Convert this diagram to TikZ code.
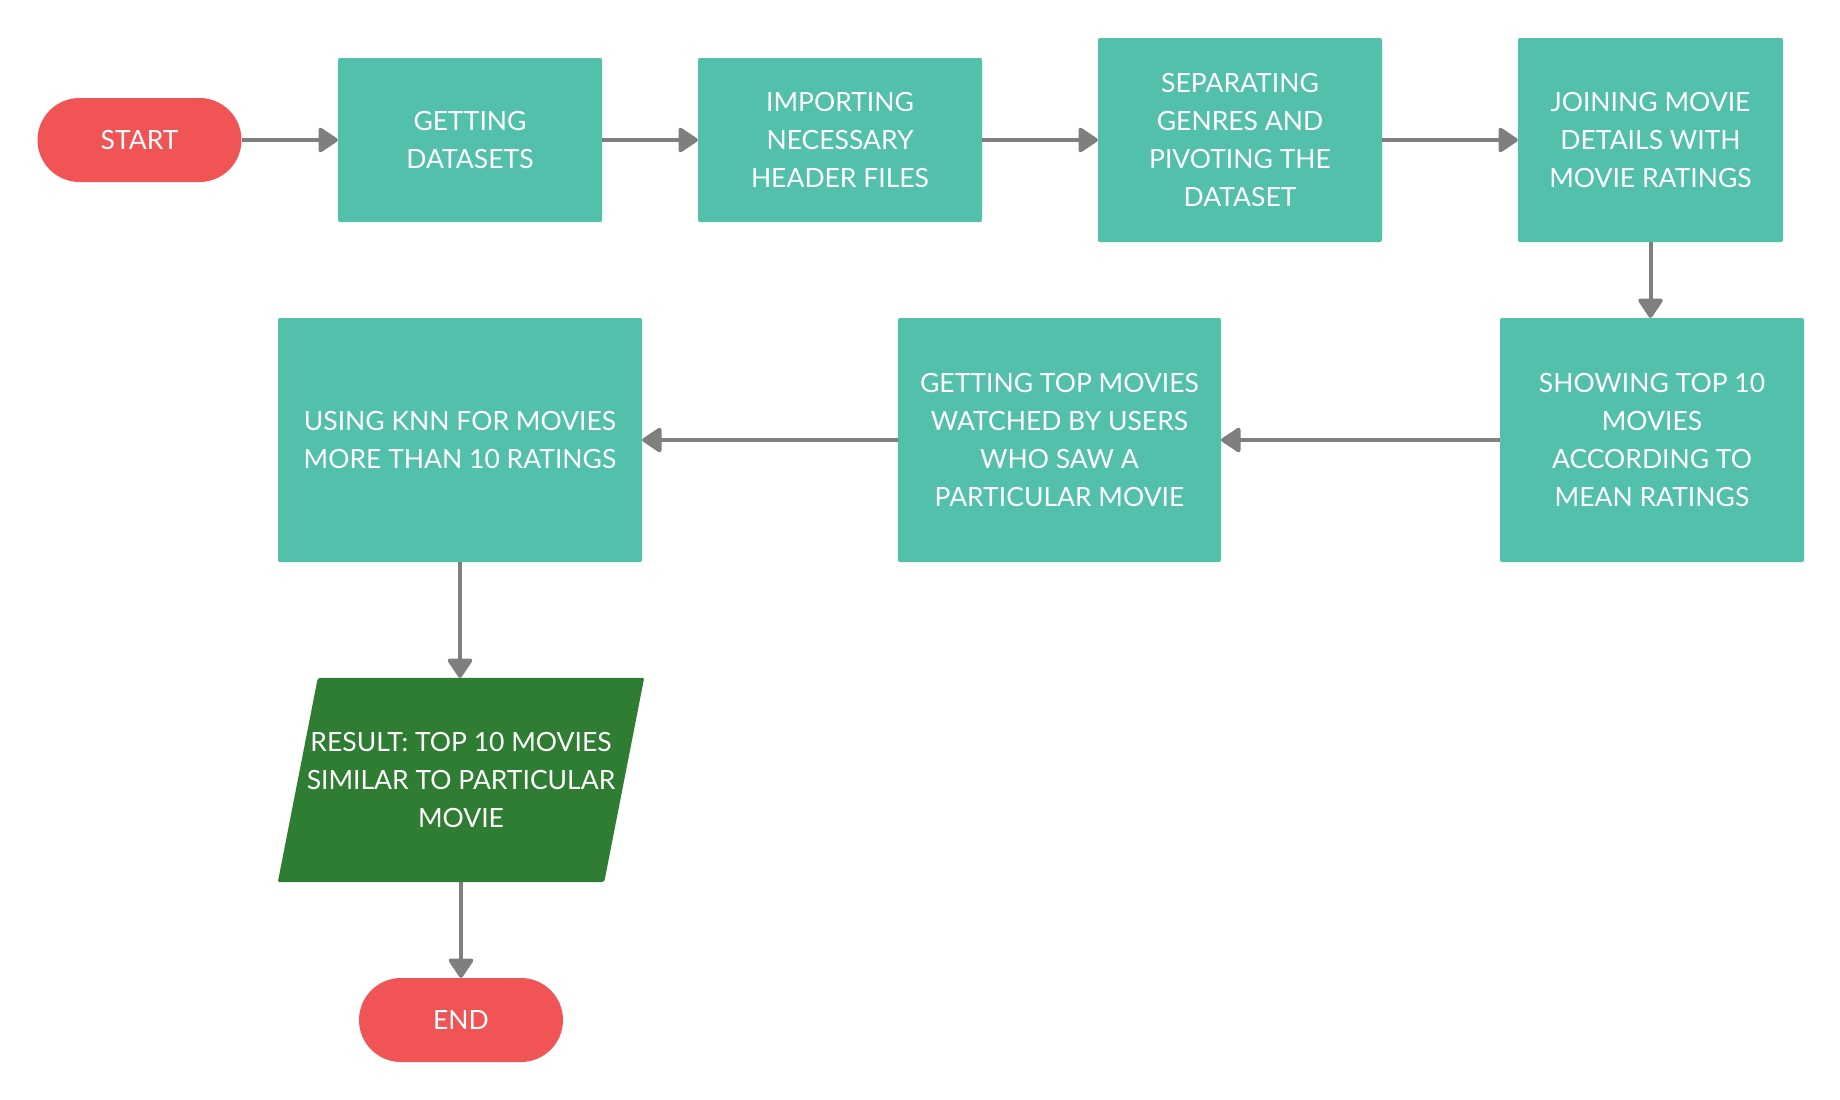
\documentclass[tikz,border=0pt]{standalone}
\usepackage{fontspec}
\setmainfont{Lato}
\usetikzlibrary{arrows.meta,calc}
\definecolor{teal1}{HTML}{52C0AA}
\definecolor{red1}{HTML}{F05454}
\definecolor{green1}{HTML}{2F7D32}
\definecolor{gray1}{HTML}{7F7F7F}
\begin{document}
\begin{tikzpicture}[x=1pt,y=-1pt,
  txt/.style={text=white,font=\fontsize{26.5}{38}\selectfont,align=center,inner sep=0pt},
  procbox/.style={txt,fill=teal1,rounded corners=2pt},
  pill/.style={txt,fill=red1,rounded corners=42pt,minimum width=204pt,minimum height=84pt},
  conn/.style={draw=gray1,line width=4pt,-{Triangle[length=21pt,width=27pt,round]}}
]
\useasboundingbox (0,0) rectangle (1840,1100);
\fill[white] (0,0) rectangle (1840,1100);
\node[pill] (start) at (139.5,140) {START};
\node[procbox,minimum width=264pt,minimum height=164pt] (n1) at (470,140) {GETTING\\DATASETS};
\node[procbox,minimum width=284pt,minimum height=164pt] (n2) at (840,140) {IMPORTING\\NECESSARY\\HEADER FILES};
\node[procbox,minimum width=284pt,minimum height=204pt] (n3) at (1240,140) {SEPARATING\\GENRES AND\\PIVOTING THE\\DATASET};
\node[procbox,minimum width=265pt,minimum height=204pt] (n4) at (1650.5,140) {JOINING MOVIE\\DETAILS WITH\\MOVIE RATINGS};
\node[procbox,minimum width=304pt,minimum height=244pt] (n5) at (1652,440) {SHOWING TOP 10\\MOVIES\\ACCORDING TO\\MEAN RATINGS};
\node[procbox,minimum width=323pt,minimum height=244pt] (n6) at (1059.5,440) {GETTING TOP MOVIES\\WATCHED BY USERS\\WHO SAW A\\PARTICULAR MOVIE};
\node[procbox,minimum width=364pt,minimum height=244pt] (n7) at (460,440) {USING KNN FOR MOVIES\\MORE THAN 10 RATINGS};
\node[txt,minimum width=366pt,minimum height=204pt] (res) at (461,780) {};
\fill[green1,rounded corners=2pt] ($(res.north west)+(40,0)$) -- (res.north east) -- ($(res.south east)+(-40,0)$) -- (res.south west) -- cycle;
\node[txt] at (res.center) {RESULT: TOP 10 MOVIES\\SIMILAR TO PARTICULAR\\MOVIE};
\node[pill] (end) at (461,1020) {END};
\draw[conn] (start.east) -- (n1.west);
\draw[conn] (n1.east) -- (n2.west);
\draw[conn] (n2.east) -- (n3.west);
\draw[conn] (n3.east) -- (n4.west);
\draw[conn] (n4.south) -- (n4.south |- n5.north);
\draw[conn] (n5.west) -- (n6.east);
\draw[conn] (n6.west) -- (n7.east);
\draw[conn] (n7.south) -- (n7.south |- res.north);
\draw[conn] (res.south) -- (end.north);
\end{tikzpicture}
\end{document}
